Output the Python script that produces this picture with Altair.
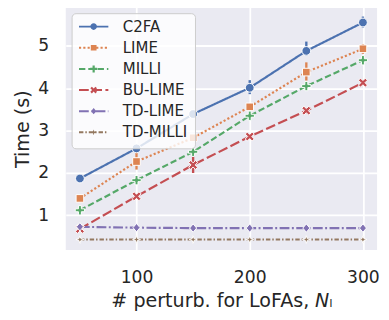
import altair as alt
import pandas as pd

SERIES = ["C2FA", "LIME", "MILLI", "BU-LIME", "TD-LIME", "TD-MILLI"]
COLORS = ["#4C72B0", "#DD8452", "#55A868", "#C44E52", "#8172B3", "#937860"]
X = [50, 100, 150, 200, 250, 300]

C2FA = [1.87, 2.58, 3.39, 4.01, 4.88, 5.55]
C2FA_LO = [1.84, 2.52, 3.34, 3.86, 4.77, 5.43]
C2FA_HI = [1.90, 2.64, 3.44, 4.19, 5.10, 5.69]

LIME = [1.40, 2.27, 2.83, 3.56, 4.38, 4.93]
LIME_LO = [1.37, 2.08, 2.78, 3.50, 4.18, 4.81]
LIME_HI = [1.43, 2.49, 2.88, 3.62, 4.61, 5.04]

MILLI = [1.12, 1.83, 2.50, 3.35, 4.05, 4.66]
MILLI_LO = [1.09, 1.79, 2.45, 3.30, 4.00, 4.60]
MILLI_HI = [1.15, 1.87, 2.55, 3.40, 4.10, 4.72]

BU_LIME = [0.68, 1.45, 2.19, 2.86, 3.47, 4.13]
BU_LIME_LO = [0.65, 1.41, 2.00, 2.81, 3.41, 4.07]
BU_LIME_HI = [0.71, 1.49, 2.42, 2.91, 3.53, 4.19]

TD_LIME = [0.73, 0.71, 0.70, 0.70, 0.70, 0.70]
TD_LIME_LO = [0.72, 0.70, 0.69, 0.69, 0.69, 0.69]
TD_LIME_HI = [0.74, 0.72, 0.71, 0.71, 0.71, 0.71]

TD_MILLI = [0.43, 0.43, 0.43, 0.43, 0.43, 0.43]
TD_MILLI_LO = [0.42, 0.42, 0.42, 0.42, 0.42, 0.42]
TD_MILLI_HI = [0.44, 0.44, 0.44, 0.44, 0.44, 0.44]

MEANS = [C2FA, LIME, MILLI, BU_LIME, TD_LIME, TD_MILLI]
LOS = [C2FA_LO, LIME_LO, MILLI_LO, BU_LIME_LO, TD_LIME_LO, TD_MILLI_LO]
HIS = [C2FA_HI, LIME_HI, MILLI_HI, BU_LIME_HI, TD_LIME_HI, TD_MILLI_HI]

X_TICKS = [100, 200, 300]
Y_TICKS = [1, 2, 3, 4, 5]

rows = []
for s, m, l, h in zip(SERIES, MEANS, LOS, HIS):
    for xi, mi, li, hi in zip(X, m, l, h):
        rows.append(dict(series=s, x=xi, y=mi, lo=li, hi=hi))
df = pd.DataFrame(rows)

# ---- styles ----
DASHES = [[1, 0], [2.2, 2.2], [6.5, 3], [10, 3.5], [10, 2.5, 2, 2.5], [4.5, 2, 1.5, 2]]


def fmt(v):
    return f"{v:.3f}".rstrip("0").rstrip(".")


def poly(pts, k=1.0):
    return "M" + "L".join(f"{fmt(px * k)},{fmt(py * k)}" for px, py in pts) + "Z"


def circle(r):
    r = fmt(r)
    return f"M-{r},0A{r},{r} 0 1,1 {r},0A{r},{r} 0 1,1 -{r},0Z"


def plus_pts(e, w):
    return [(-w, -e), (w, -e), (w, -w), (e, -w), (e, w), (w, w), (w, e), (-w, e),
            (-w, w), (-e, w), (-e, -w), (-w, -w)]


def rot45(pts):
    c = 0.70710678
    return [(c * (a - b), c * (a + b)) for a, b in pts]


def marker_path(i, k=1.0):
    if i == 0:
        return circle(0.9 * k)
    if i == 1:
        return poly([(-0.78, -0.78), (0.78, -0.78), (0.78, 0.78), (-0.78, 0.78)], k)
    if i == 2:
        return poly(plus_pts(0.95, 0.3), k)
    if i == 3:
        return poly(rot45(plus_pts(1.0, 0.3)), k)
    if i == 4:
        return poly([(0, -0.85), (0.72, 0), (0, 0.85), (-0.72, 0)], k)
    return poly([(0, -0.8), (0.2, -0.2), (0.8, 0), (0.2, 0.2), (0, 0.8), (-0.2, 0.2),
                 (-0.8, 0), (-0.2, -0.2)], k)


PLOT_SHAPES = [marker_path(i) for i in range(6)]

UNIT = 15.0  # legend px per unit


def legend_path(i):
    dash = DASHES[i]
    t = 1.0 / UNIT
    if dash == [1, 0]:
        return poly([(-1, -t), (1, -t), (1, t), (-1, t)]) + marker_path(i, 0.25)
    segs = []
    pos = -1.0
    j = 0
    on = True
    while pos < 1.0:
        ln = dash[j % len(dash)] / UNIT
        end = min(pos + ln, 1.0)
        if on and end > pos:
            segs.append(poly([(pos, -t), (end, -t), (end, t), (pos, t)]))
        pos = end
        j += 1
        on = not on
    return "".join(segs) + marker_path(i, 0.25)


LEGEND_SHAPES = [legend_path(i) for i in range(6)]

FONT = "DejaVu Sans"
TXT = "#262626"

xs = alt.Scale(domain=[37.5, 312.5], nice=False, zero=False)
ys = alt.Scale(domain=[0.18, 5.908], nice=False, zero=False)

base = alt.Chart(df)

xenc = alt.X("x:Q", scale=xs, title="# perturb. for LoFAs, 𝘕ₗ",
             axis=alt.Axis(values=X_TICKS, labelPadding=19, titlePadding=6))
yenc = alt.Y("y:Q", scale=ys, title="Time (s)",
             axis=alt.Axis(values=Y_TICKS, labelPadding=17.5, titlePadding=5))

lines = base.mark_line(strokeWidth=2.2).encode(
    x=xenc, y=yenc,
    stroke=alt.Stroke("series:N", scale=alt.Scale(domain=SERIES, range=COLORS), legend=None),
    strokeDash=alt.StrokeDash("series:N", scale=alt.Scale(domain=SERIES, range=DASHES), legend=None),
    order=alt.Order("x:Q"),
)

bars = base.mark_rule(strokeWidth=2.4).encode(
    x="x:Q", y="lo:Q", y2="hi:Q",
    stroke=alt.Stroke("series:N", scale=alt.Scale(domain=SERIES, range=COLORS), legend=None),
)

point_layers = []
for i, s in enumerate(SERIES):
    point_layers.append(
        base.transform_filter(alt.datum.series == s).mark_point(
            filled=True, opacity=1, fill=COLORS[i], stroke="white", strokeWidth=1,
            size=100, shape=PLOT_SHAPES[i],
        ).encode(x="x:Q", y="y:Q")
    )

legend_layer = base.mark_point(filled=True, opacity=0).encode(
    x="x:Q", y="y:Q",
    color=alt.Color("series:N", scale=alt.Scale(domain=SERIES, range=COLORS), title=None),
    shape=alt.Shape("series:N", scale=alt.Scale(domain=SERIES, range=LEGEND_SHAPES), title=None),
)

chart = alt.layer(lines, bars, *point_layers, legend_layer).resolve_scale(
    color="independent", shape="independent"
).properties(
    width=318, height=248,
    autosize=alt.AutoSizeParams(type="none"),
    padding={"left": 59, "top": -4, "right": 4, "bottom": 65},
).configure_view(
    fill="#EAEAF2", stroke=None
).configure_axis(
    domain=False, ticks=False, tickSize=0,
    grid=True, gridColor="white", gridWidth=1.8,
    labelFont=FONT, labelFontSize=17.5, labelColor=TXT,
    titleFont=FONT, titleFontSize=19.5, titleFontWeight="normal", titleColor=TXT,
).configure_legend(
    orient="top-left", offset=6, padding=7.5,
    fillColor="rgba(255,255,255,0.8)", strokeColor="#CCCCCC", cornerRadius=4,
    labelFont=FONT, labelFontSize=15.3, labelColor=TXT,
    symbolSize=900, symbolStrokeWidth=0, symbolOpacity=1,
    symbolFillColor="#000000",
    clipHeight=12.4, rowPadding=5.6, labelOffset=14.7,
)

chart.save("out.html", embed_options={"renderer": "svg", "actions": False})
